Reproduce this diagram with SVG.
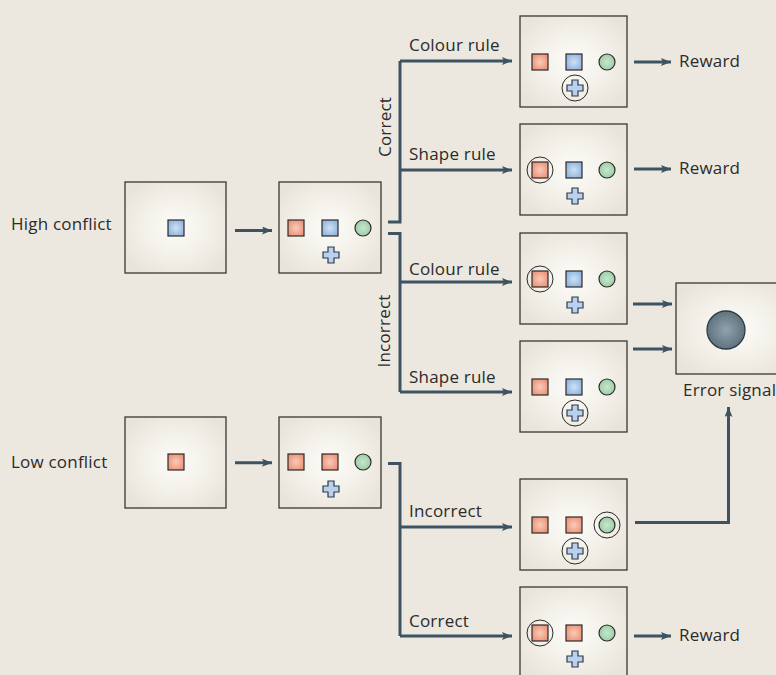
<svg xmlns="http://www.w3.org/2000/svg" width="776" height="675" viewBox="0 0 776 675">
<defs>
<radialGradient id="gBox" cx="0.5" cy="0.5" r="0.6">
<stop offset="0" stop-color="#fdfcf9"/>
<stop offset="0.55" stop-color="#f3f0e9"/>
<stop offset="1" stop-color="#e9e4da"/>
</radialGradient>
<radialGradient id="gR" cx="0.5" cy="0.5" r="0.6">
<stop offset="0" stop-color="#f9cbb8"/>
<stop offset="1" stop-color="#ec8f76"/>
</radialGradient>
<radialGradient id="gB" cx="0.5" cy="0.5" r="0.6">
<stop offset="0" stop-color="#cfe1f4"/>
<stop offset="1" stop-color="#8cb2de"/>
</radialGradient>
<radialGradient id="gG" cx="0.5" cy="0.5" r="0.6">
<stop offset="0" stop-color="#c7e6cd"/>
<stop offset="1" stop-color="#94c9a0"/>
</radialGradient>
<radialGradient id="gE" cx="0.5" cy="0.5" r="0.55">
<stop offset="0" stop-color="#8fa2ad"/>
<stop offset="1" stop-color="#5b6f7b"/>
</radialGradient>
<rect id="sqR" x="-8" y="-8" width="16" height="16" fill="url(#gR)" stroke="#2e2a28" stroke-width="1.2"/>
<rect id="sqB" x="-8" y="-8" width="16" height="16" fill="url(#gB)" stroke="#2e2a28" stroke-width="1.2"/>
<circle id="ciG" r="8" fill="url(#gG)" stroke="#2e2a28" stroke-width="1.2"/>
<path id="cross" d="M-3,-8H3V-3H8V3H3V8H-3V3H-8V-3H-3Z" fill="#b9d1ee" stroke="#2e3a48" stroke-width="1.2"/>
<circle id="ring" r="13" fill="none" stroke="#2a2a2a" stroke-width="1"/>
<marker id="ah" viewBox="0 0 10 8" refX="10" refY="4" markerWidth="10" markerHeight="8" markerUnits="userSpaceOnUse" orient="auto">
<path d="M0,0L10,4L0,8L2,4Z" fill="#3d5361"/>
</marker>
</defs>
<style>
.bx{fill:url(#gBox);stroke:#3a3633;stroke-width:1.3}
.ln{fill:none;stroke:#3d5361;stroke-width:3}
.ar{fill:none;stroke:#3d5361;stroke-width:3;marker-end:url(#ah)}
text{font-family:"Open Sans","Liberation Sans",sans-serif;font-size:17px;letter-spacing:0.2px;fill:#2b2b2b}
</style>
<rect width="776" height="675" fill="#ece8df"/>

<g id="connectors">
<path class="ar" d="M235,230.5H272"/>
<path class="ar" d="M235,462.7H272"/>
<path class="ln" d="M388,222H400V61"/>
<path class="ar" d="M400,61H512"/>
<path class="ar" d="M400,170H512"/>
<path class="ln" d="M388,233.5H400V392"/>
<path class="ar" d="M400,282H512"/>
<path class="ar" d="M400,392H512"/>
<path class="ln" d="M388,463.5H400V636"/>
<path class="ar" d="M400,527H512"/>
<path class="ar" d="M400,636H512"/>
<path class="ar" d="M634,62H671"/>
<path class="ar" d="M634,169H671"/>
<path class="ar" d="M634,636H671"/>
<path class="ar" d="M633,304H672"/>
<path class="ar" d="M633,349H672"/>
<path class="ar" d="M635,522.5H728.5V407"/>
</g>

<g id="labels">
<text x="11" y="230">High conflict</text>
<text x="11" y="468">Low conflict</text>
<text x="409" y="51">Colour rule</text>
<text x="409" y="160">Shape rule</text>
<text x="409" y="275">Colour rule</text>
<text x="409" y="383">Shape rule</text>
<text x="409" y="517">Incorrect</text>
<text x="409" y="627">Correct</text>
<text text-anchor="middle" transform="translate(391,127) rotate(-90)">Correct</text>
<text text-anchor="middle" transform="translate(390,331) rotate(-90)">Incorrect</text>
<text x="679" y="67">Reward</text>
<text x="679" y="174">Reward</text>
<text x="679" y="641">Reward</text>
<text x="683" y="396">Error signal</text>
</g>

<g id="hc-cue">
<rect class="bx" x="125" y="182" width="101" height="91"/>
<use href="#sqB" x="176" y="228"/>
</g>
<g id="hc-stim">
<rect class="bx" x="279" y="182" width="102" height="91"/>
<use href="#sqR" x="296" y="228"/>
<use href="#sqB" x="330" y="228"/>
<use href="#ciG" x="363" y="228"/>
<use href="#cross" x="331" y="255"/>
</g>
<g id="lc-cue">
<rect class="bx" x="125" y="417" width="101" height="91"/>
<use href="#sqR" x="176" y="462"/>
</g>
<g id="lc-stim">
<rect class="bx" x="279" y="417" width="102" height="91"/>
<use href="#sqR" x="296" y="462"/>
<use href="#sqR" x="330" y="462"/>
<use href="#ciG" x="363" y="462"/>
<use href="#cross" x="331" y="489"/>
</g>

<g id="hc-correct-colour">
<rect class="bx" x="520" y="16" width="107" height="91"/>
<use href="#sqR" x="540" y="62"/>
<use href="#sqB" x="574" y="62"/>
<use href="#ciG" x="607" y="62"/>
<use href="#cross" x="575" y="88"/>
<use href="#ring" x="575" y="88"/>
</g>
<g id="hc-correct-shape">
<rect class="bx" x="520" y="124" width="107" height="91"/>
<use href="#sqR" x="540" y="170"/>
<use href="#ring" x="540" y="170"/>
<use href="#sqB" x="574" y="170"/>
<use href="#ciG" x="607" y="170"/>
<use href="#cross" x="575" y="196"/>
</g>
<g id="hc-incorrect-colour">
<rect class="bx" x="520" y="233" width="107" height="91"/>
<use href="#sqR" x="540" y="279"/>
<use href="#ring" x="540" y="279"/>
<use href="#sqB" x="574" y="279"/>
<use href="#ciG" x="607" y="279"/>
<use href="#cross" x="575" y="305"/>
</g>
<g id="hc-incorrect-shape">
<rect class="bx" x="520" y="341" width="107" height="91"/>
<use href="#sqR" x="540" y="387"/>
<use href="#sqB" x="574" y="387"/>
<use href="#ciG" x="607" y="387"/>
<use href="#cross" x="575" y="413"/>
<use href="#ring" x="575" y="413"/>
</g>
<g id="lc-incorrect">
<rect class="bx" x="520" y="479" width="107" height="91"/>
<use href="#sqR" x="540" y="525"/>
<use href="#sqR" x="574" y="525"/>
<use href="#ciG" x="607" y="525"/>
<use href="#ring" x="607" y="525"/>
<use href="#cross" x="575" y="551"/>
<use href="#ring" x="575" y="551"/>
</g>
<g id="lc-correct">
<rect class="bx" x="520" y="587" width="107" height="91"/>
<use href="#sqR" x="540" y="633"/>
<use href="#ring" x="540" y="633"/>
<use href="#sqR" x="574" y="633"/>
<use href="#ciG" x="607" y="633"/>
<use href="#cross" x="575" y="659"/>
</g>
<g id="error-signal">
<rect class="bx" x="676" y="283" width="120" height="91"/>
<circle cx="726" cy="330" r="19" fill="url(#gE)" stroke="#2e3a44" stroke-width="1.3"/>
</g>
</svg>
